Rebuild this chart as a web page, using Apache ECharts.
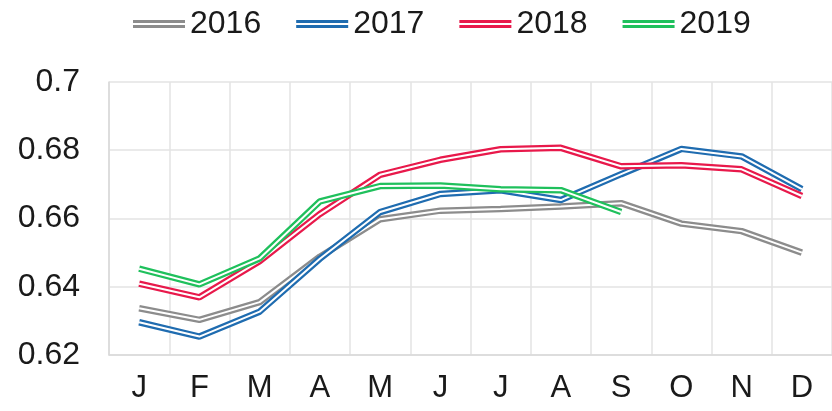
<!DOCTYPE html>
<html>
<head>
<meta charset="utf-8">
<script src="https://cdn.jsdelivr.net/npm/echarts@6/dist/echarts.min.js"></script>
<style>
  html, body { margin: 0; padding: 0; background: #fff; }
  #chart { width: 832px; height: 411px; }
</style>
</head>
<body>
<div id="chart"></div>
<script>
// months and yearly values
const months = ["J", "F", "M", "A", "M", "J", "J", "A", "S", "O", "N", "D"];
const years = ["2016", "2017", "2018", "2019"];
const colors = ["#8c8c8c", "#1f6cb0", "#e8194b", "#1fc05c"];

const v2016 = [0.6337, 0.6303, 0.6355, 0.6488, 0.6598, 0.6623, 0.6628, 0.6635, 0.6645, 0.6585, 0.6563, 0.6500];
const v2017 = [0.6296, 0.6254, 0.6327, 0.6482, 0.6619, 0.6672, 0.6683, 0.6654, 0.6730, 0.6804, 0.6782, 0.6686];
const v2018 = [0.6409, 0.6369, 0.6475, 0.6613, 0.6728, 0.6772, 0.6803, 0.6807, 0.6753, 0.6756, 0.6744, 0.6666];
const v2019 = [0.6453, 0.6407, 0.6483, 0.6650, 0.6695, 0.6697, 0.6686, 0.6683, 0.6619, null, null, null];
const values = [v2016, v2017, v2018, v2019];

const yTicks = { min: 0.62, max: 0.7, interval: 0.02 };

const chart = echarts.init(document.getElementById("chart"));

// each year is a wide coloured line with a thin white line on top (double-line look)
const series = [];
years.forEach((y, i) => {
  series.push({
    name: y,
    type: "line",
    data: values[i],
    symbol: "none",
    lineStyle: { color: colors[i], width: 6.5 },
    itemStyle: { color: colors[i] },
  });
  series.push({
    name: y + "_in",
    type: "line",
    data: values[i],
    symbol: "none",
    silent: true,
    lineStyle: { color: "#fff", width: 2 },
  });
});

const font = "Liberation Sans, Arial, sans-serif";

chart.setOption({
  animation: false,
  legend: {
    data: years,
    top: 8,
    left: 133,
    padding: 0,
    itemGap: 35,
    itemWidth: 52,
    itemHeight: 8,
    icon: "path://M0,0H52V3H0Z M0,5H52V8H0Z",
    textStyle: { fontSize: 32, color: "#1a1a1a", fontFamily: font },
  },
  grid: { left: 109, right: 0, top: 82, bottom: 56 },
  xAxis: {
    type: "category",
    data: months,
    boundaryGap: true,
    axisTick: { show: false },
    axisLine: { lineStyle: { color: "#d9d9d9", width: 1.5 } },
    splitLine: { show: true, lineStyle: { color: "#e3e3e3", width: 1.5 } },
    axisLabel: { fontSize: 31, color: "#1a1a1a", fontFamily: font, margin: 18 },
  },
  yAxis: {
    type: "value",
    min: yTicks.min,
    max: yTicks.max,
    interval: yTicks.interval,
    axisLine: { show: true, lineStyle: { color: "#d9d9d9", width: 1.5 } },
    axisTick: { show: false },
    splitLine: { lineStyle: { color: "#e3e3e3", width: 1.5 } },
    axisLabel: { fontSize: 32, color: "#1a1a1a", fontFamily: font, margin: 29 },
  },
  series: series,
});
</script>
</body>
</html>
